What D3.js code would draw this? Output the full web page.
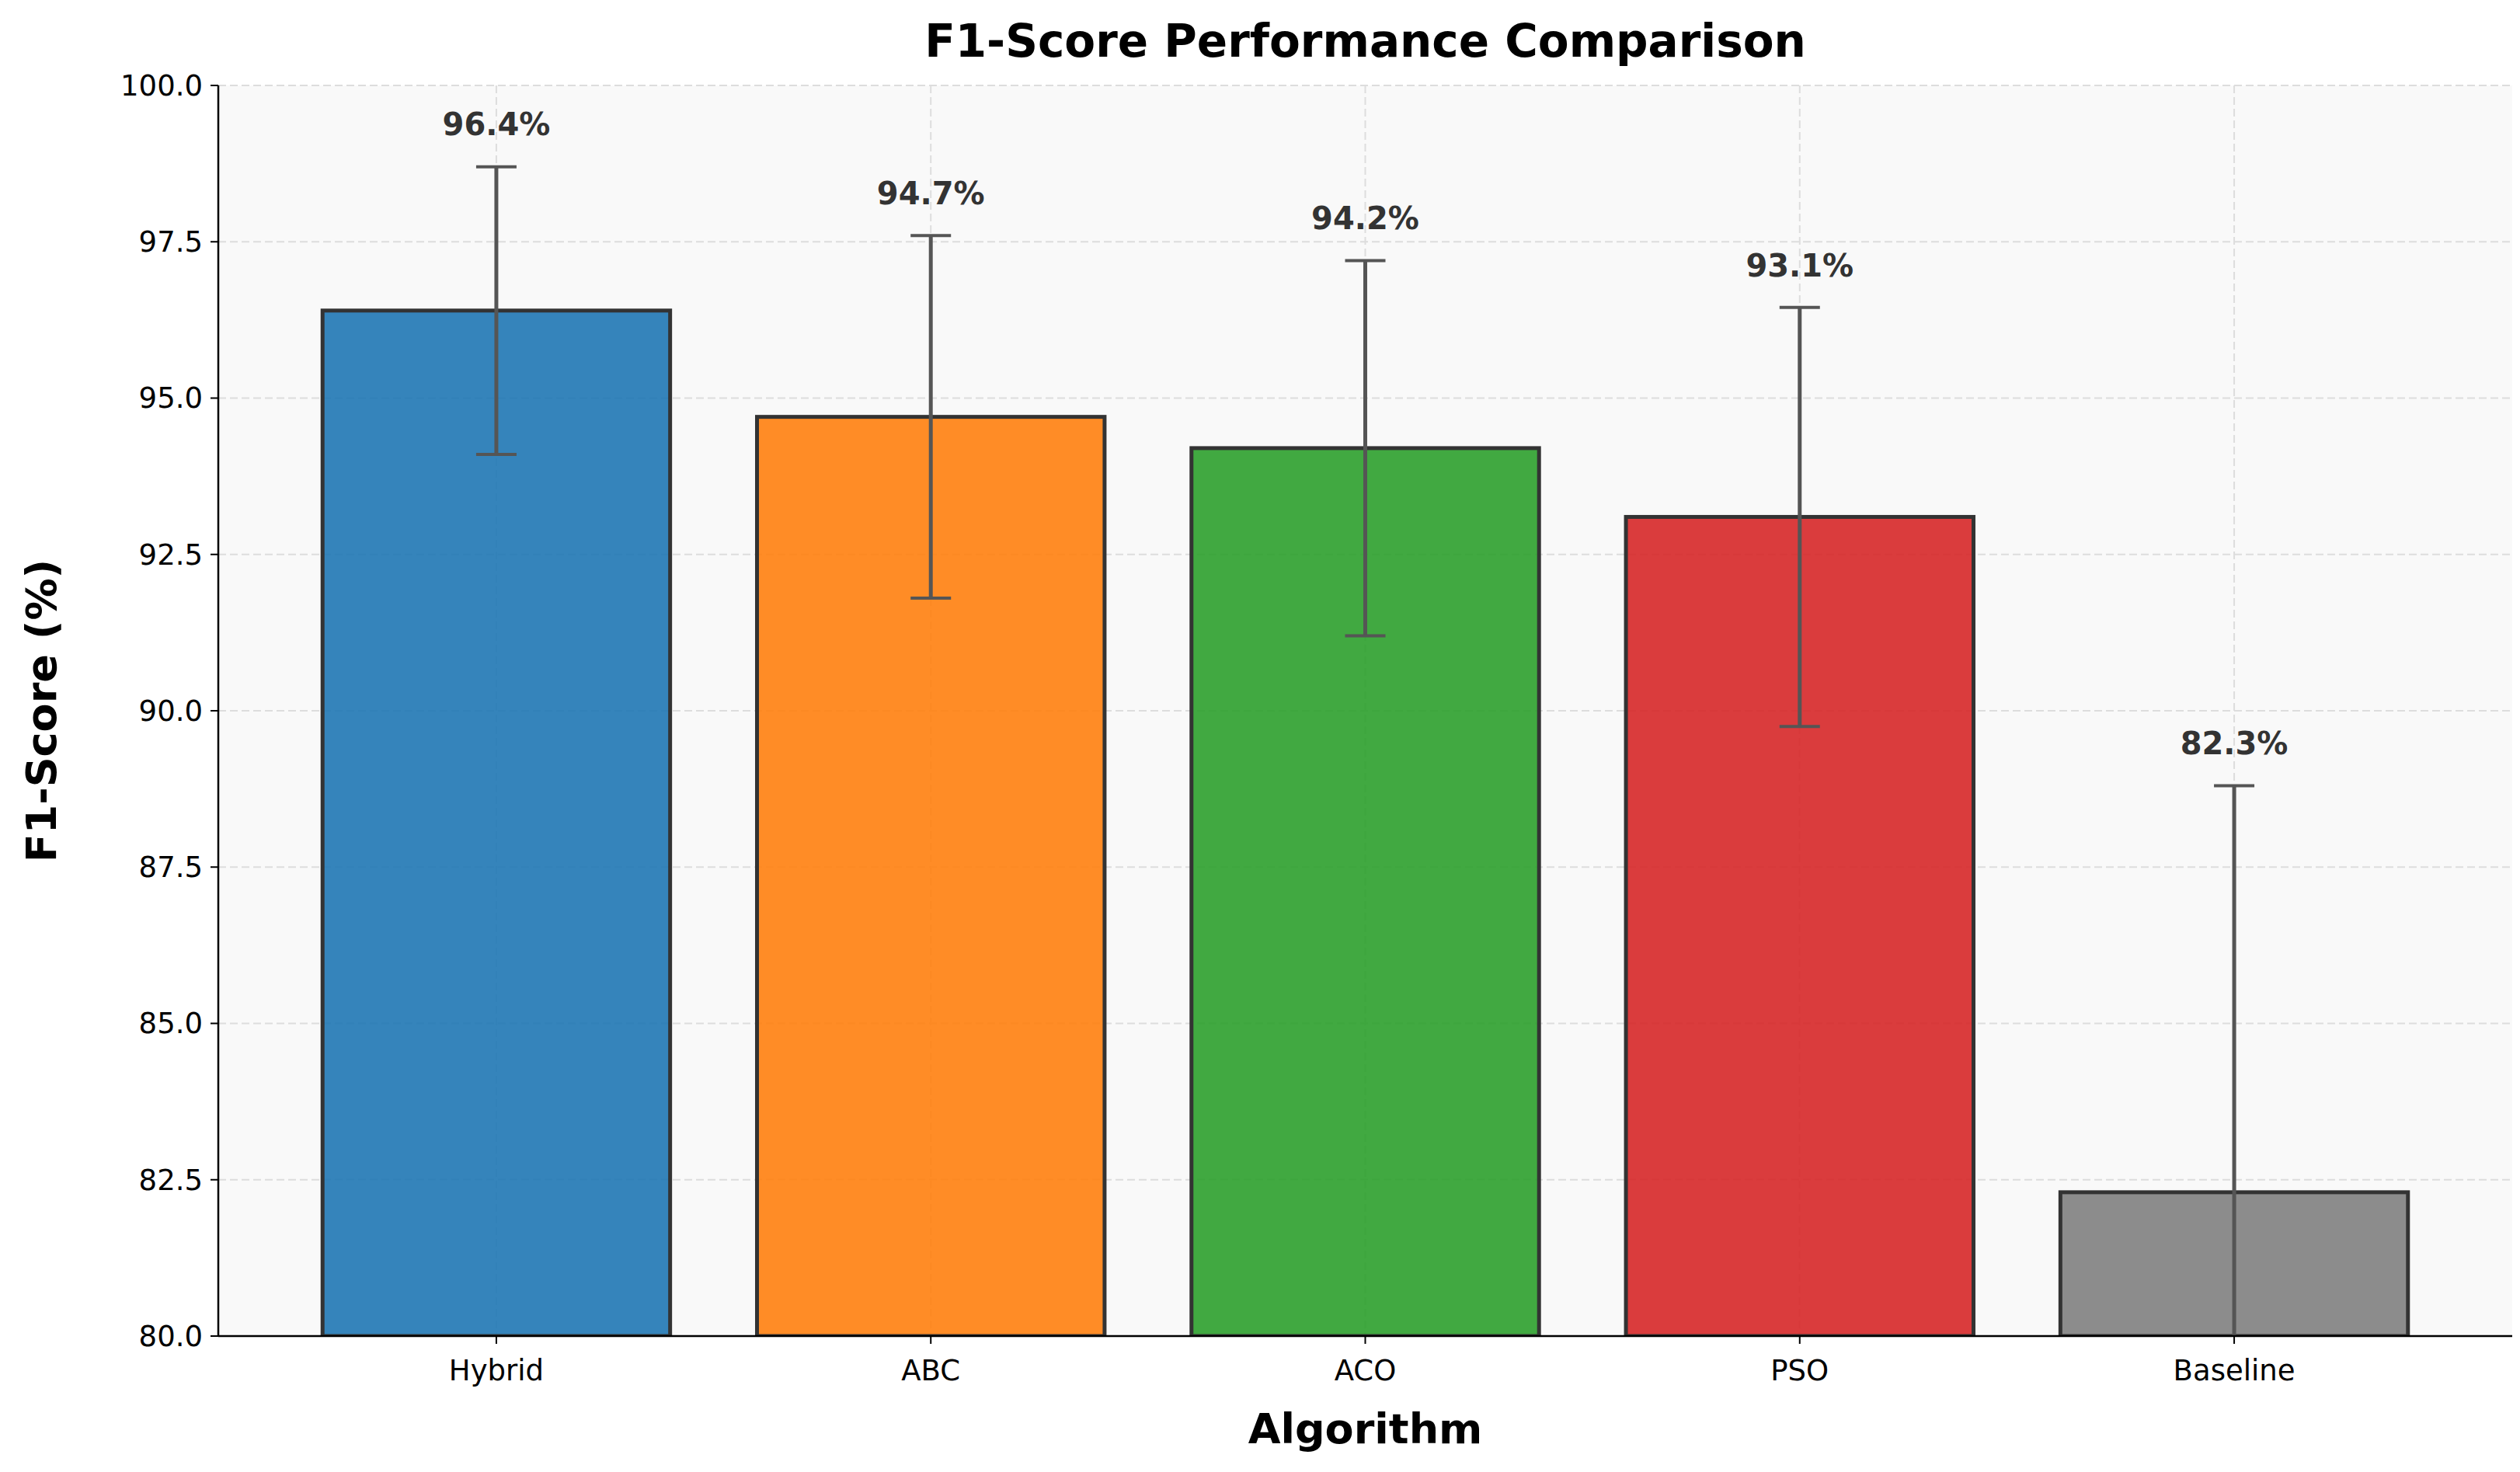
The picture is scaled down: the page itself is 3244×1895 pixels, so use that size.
<!DOCTYPE html>
<html><head><meta charset="utf-8">
<script src="https://cdn.jsdelivr.net/npm/d3@7"></script>
<style>body{margin:0;background:#fff}text{font-family:"DejaVu Sans",sans-serif}</style>
</head><body><svg id="c" width="3244" height="1895"></svg>
<script>
const categories=["Hybrid","ABC","ACO","PSO","Baseline"];
const values=[96.4,94.7,94.2,93.1,82.3];
const errors=[2.3,2.9,3.0,3.35,6.5];
const colors=["#1f77b4","#ff7f0e","#2ca02c","#d62728","#7f7f7f"];
const yTicks=[80,82.5,85,87.5,90,92.5,95,97.5,100];
const svg=d3.select("#c");
const L=281,R=3234,T=110,B=1720;
const x=d3.scaleLinear().domain([-0.64,4.64]).range([L,R]);
const y=d3.scaleLinear().domain([80,100]).range([B,T]);
const bw=x(0.8)-x(0);
svg.append("rect").attr("x",L).attr("y",T).attr("width",R-L).attr("height",B-T).attr("fill","#f9f9f9");
const g=svg.append("g");
yTicks.forEach(t=>g.append("line").attr("x1",L).attr("x2",R).attr("y1",y(t)).attr("y2",y(t)).attr("stroke","#ddd").attr("stroke-width",2).attr("stroke-dasharray","10,5"));
categories.forEach((c,i)=>g.append("line").attr("x1",x(i)).attr("x2",x(i)).attr("y1",T).attr("y2",B).attr("stroke","#ddd").attr("stroke-width",2).attr("stroke-dasharray","10,5"));
const clip=svg.append("clipPath").attr("id","cp").append("rect").attr("x",L).attr("y",T-200).attr("width",R-L).attr("height",B-T+200);
const pg=svg.append("g").attr("clip-path","url(#cp)");
categories.forEach((c,i)=>{
 pg.append("rect").attr("x",x(i)-bw/2).attr("y",y(values[i])).attr("width",bw).attr("height",B-y(values[i]))
  .attr("fill",colors[i]).attr("fill-opacity",0.9).attr("stroke","#333").attr("stroke-width",5);
 const lo=values[i]-errors[i],hi=values[i]+errors[i];
 pg.append("line").attr("x1",x(i)).attr("x2",x(i)).attr("y1",y(lo)).attr("y2",y(hi)).attr("stroke","#555").attr("stroke-width",5);
 [lo,hi].forEach(v=>pg.append("line").attr("x1",x(i)-26).attr("x2",x(i)+26).attr("y1",y(v)).attr("y2",y(v)).attr("stroke","#555").attr("stroke-width",4));
 svg.append("text").attr("x",x(i)).attr("y",y(hi+0.5)).attr("text-anchor","middle").attr("font-size",40).attr("font-weight","bold").attr("fill","#333").text(values[i].toFixed(1)+"%");
});
svg.append("line").attr("x1",L).attr("x2",L).attr("y1",T).attr("y2",B).attr("stroke","#000").attr("stroke-width",2.5);
svg.append("line").attr("x1",L).attr("x2",R).attr("y1",B).attr("y2",B).attr("stroke","#000").attr("stroke-width",2.5);
yTicks.forEach(t=>{
 svg.append("line").attr("x1",L-10).attr("x2",L).attr("y1",y(t)).attr("y2",y(t)).attr("stroke","#000").attr("stroke-width",2);
 svg.append("text").attr("x",L-20).attr("y",y(t)).attr("dy","0.35em").attr("text-anchor","end").attr("font-size",37).text(t.toFixed(1));
});
categories.forEach((c,i)=>{
 svg.append("line").attr("x1",x(i)).attr("x2",x(i)).attr("y1",B).attr("y2",B+10).attr("stroke","#000").attr("stroke-width",2);
 svg.append("text").attr("x",x(i)).attr("y",B+57).attr("text-anchor","middle").attr("font-size",37).text(c);
});
svg.append("text").attr("x",(L+R)/2).attr("y",73).attr("text-anchor","middle").attr("font-size",58).attr("font-weight","bold").text("F1-Score Performance Comparison");
svg.append("text").attr("x",(L+R)/2).attr("y",1858).attr("text-anchor","middle").attr("font-size",54).attr("font-weight","bold").text("Algorithm");
svg.append("text").attr("transform",`translate(72,${(T+B)/2}) rotate(-90)`).attr("text-anchor","middle").attr("font-size",54).attr("font-weight","bold").text("F1-Score (%)");
</script></body></html>
